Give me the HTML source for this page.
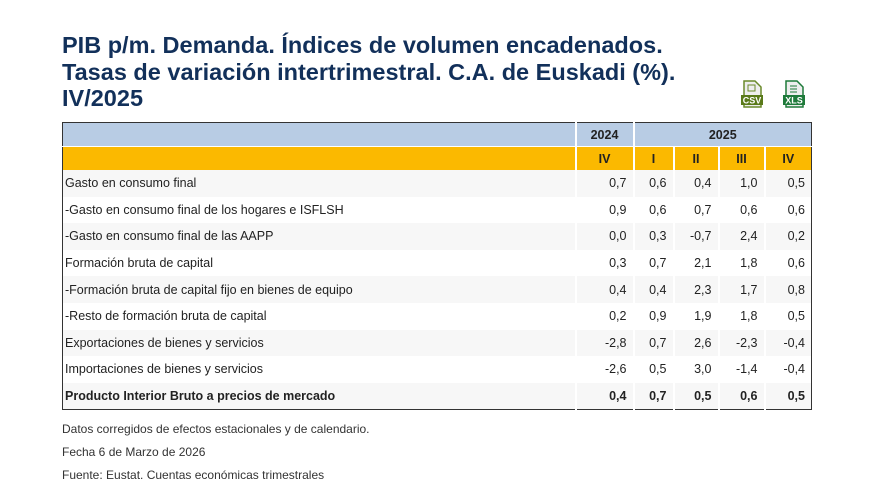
<!DOCTYPE html>
<html><head><meta charset="utf-8"><style>
body{margin:0;width:880px;height:495px;background:#fff;font-family:"Liberation Sans",sans-serif;position:relative;overflow:hidden}
h1{position:absolute;left:62px;top:32px;margin:0;font-size:23.5px;line-height:26.5px;color:#12305a;font-weight:bold;letter-spacing:0}
table{position:absolute;left:62px;top:122px;border-collapse:collapse;border:1px solid #333;font-size:12.5px;color:#222;table-layout:fixed;width:749px}
td{padding:0 3px;height:26.6px;white-space:nowrap}
tr.h1 td{background:#b8cce4;height:23px;font-weight:bold;text-align:center;border-left:2px solid #fff}
tr.h2 td{background:#fbb900;height:23px;font-weight:bold;text-align:center;border-left:2px solid #fff;border-top:1px solid #fff}
tr.h1 td:first-child,tr.h2 td:first-child{border-left:none}
td.n{text-align:right;padding-right:6px}
tr.d:nth-child(odd) td{background:#f7f7f7}
tr.d td{border-left:2px solid #fff}
tr.d td:first-child{border-left:none;padding-left:2px}
tr.b td{font-weight:bold}
.note{position:absolute;left:62px;font-size:12px;color:#333}
.ic{position:absolute;top:80px;width:24px;height:28px}
</style></head><body>
<h1>PIB p/m. Demanda. Índices de volumen encadenados.<br>Tasas de variación intertrimestral. C.A. de Euskadi (%).<br>IV/2025</h1>
<svg class="ic" style="left:740px" viewBox="0 0 24 28"><path d="M4 1h11l6 6v20H4z" fill="#eee" stroke="#6a8a2a" stroke-width="1.5"/><rect x="8" y="5" width="7" height="6" fill="none" stroke="#6a8a2a"/><rect x="1" y="15" width="22" height="10" fill="#5a7a1a"/><text x="12" y="23.5" font-size="9" fill="#fff" text-anchor="middle" font-family="Liberation Sans" font-weight="bold">CSV</text></svg>
<svg class="ic" style="left:782px" viewBox="0 0 24 28"><path d="M4 1h11l6 6v20H4z" fill="#eee" stroke="#1e7a3a" stroke-width="1.5"/><path d="M8 6h7M8 9h7M8 12h7" stroke="#1e7a3a"/><rect x="1" y="15" width="22" height="10" fill="#1e7a3a"/><text x="12" y="23.5" font-size="9" fill="#fff" text-anchor="middle" font-family="Liberation Sans" font-weight="bold">XLS</text></svg>
<table>
<colgroup><col style="width:513px"><col style="width:58px"><col style="width:40px"><col style="width:45px"><col style="width:46px"><col style="width:47px"></colgroup>
<tr class="h1"><td></td><td>2024</td><td colspan="4">2025</td></tr>
<tr class="h2"><td></td><td>IV</td><td>I</td><td>II</td><td>III</td><td>IV</td></tr>
<tr class="d"><td>Gasto en consumo final</td><td class="n">0,7</td><td class="n">0,6</td><td class="n">0,4</td><td class="n">1,0</td><td class="n">0,5</td></tr>
<tr class="d"><td>-Gasto en consumo final de los hogares e ISFLSH</td><td class="n">0,9</td><td class="n">0,6</td><td class="n">0,7</td><td class="n">0,6</td><td class="n">0,6</td></tr>
<tr class="d"><td>-Gasto en consumo final de las AAPP</td><td class="n">0,0</td><td class="n">0,3</td><td class="n">-0,7</td><td class="n">2,4</td><td class="n">0,2</td></tr>
<tr class="d"><td>Formación bruta de capital</td><td class="n">0,3</td><td class="n">0,7</td><td class="n">2,1</td><td class="n">1,8</td><td class="n">0,6</td></tr>
<tr class="d"><td>-Formación bruta de capital fijo en bienes de equipo</td><td class="n">0,4</td><td class="n">0,4</td><td class="n">2,3</td><td class="n">1,7</td><td class="n">0,8</td></tr>
<tr class="d"><td>-Resto de formación bruta de capital</td><td class="n">0,2</td><td class="n">0,9</td><td class="n">1,9</td><td class="n">1,8</td><td class="n">0,5</td></tr>
<tr class="d"><td>Exportaciones de bienes y servicios</td><td class="n">-2,8</td><td class="n">0,7</td><td class="n">2,6</td><td class="n">-2,3</td><td class="n">-0,4</td></tr>
<tr class="d"><td>Importaciones de bienes y servicios</td><td class="n">-2,6</td><td class="n">0,5</td><td class="n">3,0</td><td class="n">-1,4</td><td class="n">-0,4</td></tr>
<tr class="d b"><td>Producto Interior Bruto a precios de mercado</td><td class="n">0,4</td><td class="n">0,7</td><td class="n">0,5</td><td class="n">0,6</td><td class="n">0,5</td></tr>
</table>
<div class="note" style="top:422px">Datos corregidos de efectos estacionales y de calendario.</div>
<div class="note" style="top:445px">Fecha 6 de Marzo de 2026</div>
<div class="note" style="top:468px">Fuente: Eustat. Cuentas económicas trimestrales</div>
</body></html>
